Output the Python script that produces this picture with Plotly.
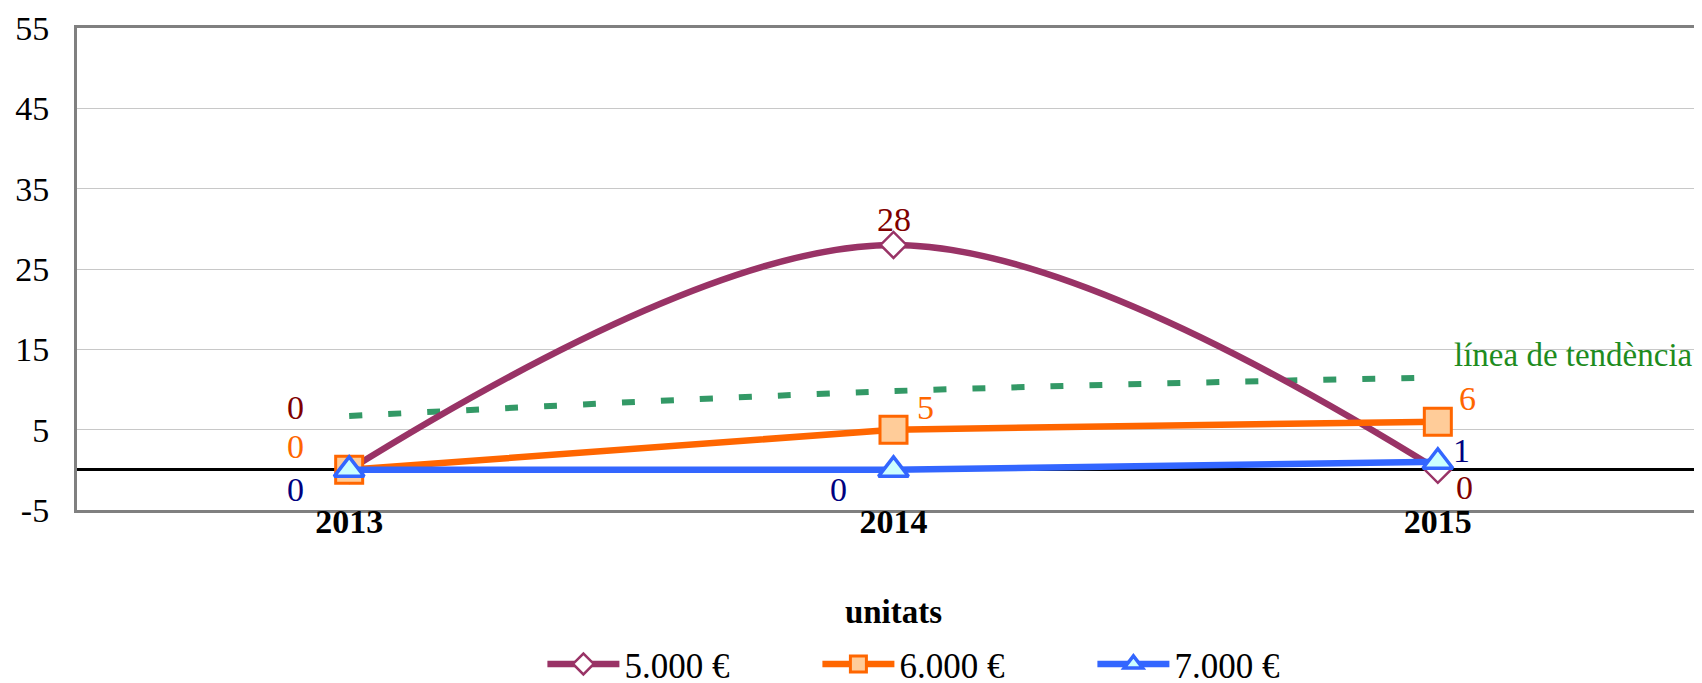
import plotly.graph_objects as go

years = ["2013", "2014", "2015"]
s5000 = [0, 28, 0]
s6000 = [0, 5, 6]
s7000 = [0, 0, 1]
trend = [6.7, 9.8, 11.5]
names = ["5.000 €", "6.000 €", "7.000 €"]
y_ticks = [-5, 5, 15, 25, 35, 45, 55]
y_ticktext = ["-5", "5", "15", "25", "35", "45", "55"]

FONT = "Liberation Serif"
FS = 34
XR = [-0.5, 2.5]

fig = go.Figure()

fig.add_trace(go.Scatter(x=years, y=trend, mode="lines", line=dict(color="#339966", width=6, dash="13px,26px", shape="spline"),
                         showlegend=False, hoverinfo="skip"))
fig.add_trace(go.Scatter(x=years, y=s5000, name=names[0], mode="lines+markers",
                         line=dict(color="#993366", width=6.5, shape="spline", smoothing=1.0),
                         marker=dict(symbol="diamond", size=20, color="white", line=dict(color="#993366", width=2.5))))
fig.add_trace(go.Scatter(x=years, y=s6000, name=names[1], mode="lines+markers",
                         line=dict(color="#FF6600", width=6.5),
                         marker=dict(symbol="square", size=27, color="#FFCC99", line=dict(color="#FF6600", width=3))))
fig.add_trace(go.Scatter(x=years, y=s7000, name=names[2], mode="lines+markers",
                         line=dict(color="#3366FF", width=6.5),
                         marker=dict(symbol="triangle-up", size=26, color="#CCFFFF", line=dict(color="#3366FF", width=3.5))))

label_specs = [
    (s5000, "#800000", [(-54, 62), (0, 25), (27, -18)]),
    (s6000, "#FF6600", [(-54, 23), (32, 22), (30, 23)]),
    (s7000, "#000080", [(-54, -20), (-55, -20), (24, 11)]),
]
for vals, col, offs in label_specs:
    for i, (v, (dx, dy)) in enumerate(zip(vals, offs)):
        fig.add_annotation(x=i, y=v, xref="x", yref="y", text=str(v), showarrow=False, xshift=dx, yshift=dy,
                           font=dict(family=FONT, size=FS, color=col))

fig.add_annotation(x=2, y=trend[2], xref="x", yref="y", text="línea de tendència", showarrow=False, xanchor="left",
                   xshift=14, yshift=22, font=dict(family=FONT, size=33, color="#1E8C1E"))

fig.update_layout(
    width=1702, height=683,
    margin=dict(l=69, r=0, t=20, b=181, autoexpand=False),
    plot_bgcolor="white", paper_bgcolor="white",
    font=dict(family=FONT, size=FS, color="black"),
    xaxis=dict(type="category", range=XR, showgrid=False, showline=True, linecolor="#808080",
               linewidth=3, mirror=True, ticks="", tickfont=dict(family=FONT, size=FS, weight="bold"),
               ticklabelstandoff=-21, automargin=False,
               title=dict(text="unitats", font=dict(family=FONT, size=33, weight="bold"), standoff=62)),
    xaxis2=dict(overlaying="x", anchor="free", position=5 / 60, range=XR,
                showgrid=False, showline=False, showticklabels=False, ticks="outside", ticklen=9,
                tickwidth=2, tickcolor="black", tickmode="array", tickvals=[-0.5, 0.5, 1.5],
                zeroline=False, layer="below traces", automargin=False),
    yaxis=dict(range=[-5, 55], tickmode="array", tickvals=y_ticks, ticktext=y_ticktext, showgrid=True,
               gridcolor="#C8C8C8", gridwidth=1, zeroline=True, zerolinecolor="black", zerolinewidth=3,
               showline=True, linecolor="#808080", linewidth=3, ticks="", ticklabelstandoff=18,
               tickfont=dict(family=FONT, size=FS), automargin=False),
    legend=dict(orientation="h", x=0.285, xanchor="left", y=-0.32, yanchor="middle",
                entrywidth=188, entrywidthmode="pixels", itemwidth=72, font=dict(family=FONT, size=35),
                bgcolor="rgba(0,0,0,0)"),
    showlegend=True,
)

fig.write_html("out.html")
